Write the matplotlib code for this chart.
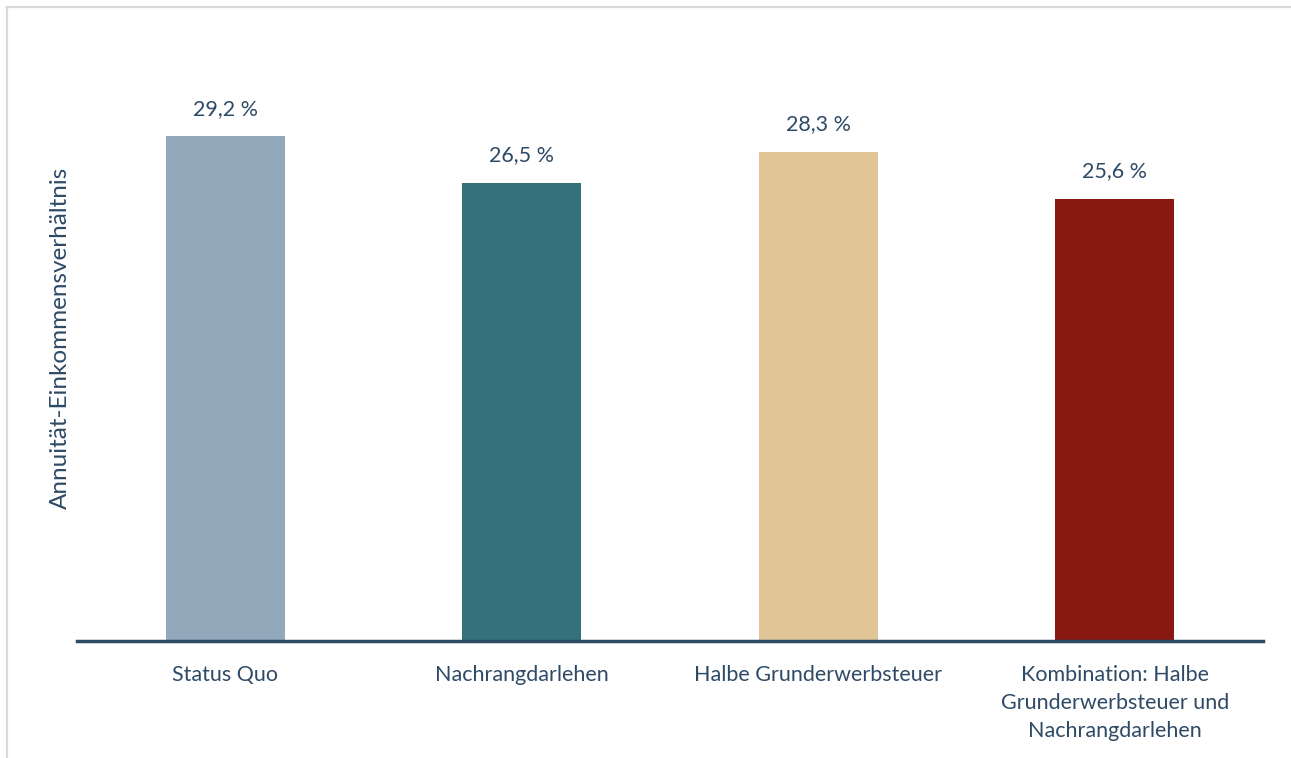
import matplotlib.pyplot as plt
from matplotlib.lines import Line2D

categories = ["Status Quo", "Nachrangdarlehen", "Halbe Grunderwerbsteuer",
              "Kombination: Halbe\nGrunderwerbsteuer und\nNachrangdarlehen"]
values = [29.2, 26.5, 28.3, 25.6]
colors = ["#93a8bb", "#33727b", "#e0c597", "#881812"]
text_color = "#2e4a66"

plt.rcParams['font.family'] = ['Lato', 'DejaVu Sans']

W, H = 1291, 758
fig = plt.figure(figsize=(W / 100, H / 100), dpi=100)
ax = fig.add_axes([77 / W, (H - 641) / H, (1263 - 77) / W, 622 / H])

x = range(len(categories))
ax.bar(x, values, width=0.40, color=colors, zorder=2)
for i, v in enumerate(values):
    ax.annotate(f"{v:.1f} %".replace(".", ","), xy=(i, v), xytext=(0, 20),
                textcoords="offset points", ha="center", va="center",
                fontsize=15.5, color=text_color)

ax.set_xlim(-0.5, 3.5)
ax.set_ylim(0, 36)
ax.set_xticks(list(x))
ax.set_xticklabels(categories, fontsize=15.5, color=text_color, linespacing=1.5, va="top")
ax.tick_params(axis="x", length=0, pad=17)
ax.set_yticks([])
for s in ["top", "right", "left"]:
    ax.spines[s].set_visible(False)
ax.spines["bottom"].set_color(text_color)
ax.spines["bottom"].set_linewidth(2.5)
ax.set_ylabel("Annuität-Einkommensverhältnis", fontsize=17.5, color=text_color)
# label centred a bit below the middle of the axes, like the original
ax.yaxis.set_label_coords(-6 / (1263 - 77), (641 - 338) / 622)

# light frame around the chart area
fig.add_artist(Line2D([7 / W, 1], [1 - 6.5 / H, 1 - 6.5 / H], color="#d9d9d9", lw=1.6,
                      transform=fig.transFigure))
fig.add_artist(Line2D([7 / W, 7 / W], [0, 1 - 6.5 / H], color="#d9d9d9", lw=1.6,
                      transform=fig.transFigure))

fig.savefig("out.png", dpi=100)
